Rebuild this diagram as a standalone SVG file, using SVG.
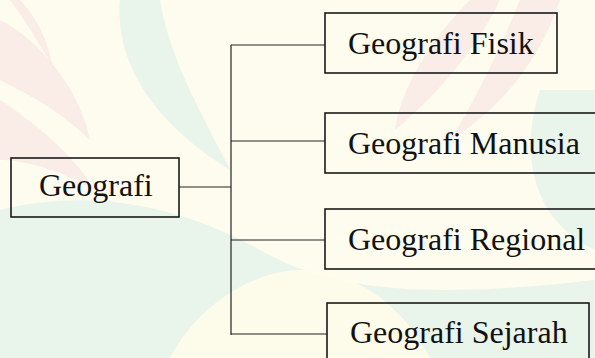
<svg xmlns="http://www.w3.org/2000/svg" width="595" height="358" viewBox="0 0 595 358">
  <style>
    .box { fill: none; stroke: #1a1a1a; stroke-width: 1.6; }
    .lbl { font-family: "Liberation Serif", "Times New Roman", serif; font-size: 32px; fill: #111; }
    .conn { stroke: #222; stroke-width: 1.2; fill: none; }
    .pink { fill: #f8dfe2; opacity: 0.55; }
    .teal { fill: #dcefe9; opacity: 0.6; }
    .cream { fill: #fffcea; opacity: 0.9; }
  </style>
  <g id="background">
    <rect width="595" height="358" fill="#fdfcee"/>
    <path class="teal" d="M0 210 C80 190 170 200 260 250 C330 290 420 300 595 280 L595 358 L0 358 Z"/>
    <path class="teal" d="M120 0 C115 60 150 120 230 170 C200 110 170 60 160 0 Z"/>
    <path class="teal" d="M540 90 C520 150 530 220 595 250 L595 90 Z"/>
    <path class="pink" d="M0 20 C40 40 80 90 90 140 C60 110 20 90 0 80 Z"/>
    <path class="pink" d="M0 100 C30 120 70 150 95 190 C60 170 25 160 0 160 Z"/>
    <path class="pink" d="M20 0 C40 20 50 50 52 65 C40 45 25 20 10 0 Z"/>
    <path class="pink" d="M470 0 C430 40 400 90 395 130 C430 100 470 60 500 0 Z"/>
    <path class="pink" d="M520 0 C500 50 470 110 450 140 C500 110 540 60 560 0 Z"/>
    <path class="cream" d="M170 358 C200 300 260 270 300 270 C350 270 400 300 430 358 Z"/>
  </g>
  <g id="connectors">
    <line class="conn" x1="179" y1="187" x2="231" y2="187"/>
    <line class="conn" x1="231" y1="45" x2="231" y2="335"/>
    <line class="conn" x1="231" y1="45" x2="325" y2="45"/>
    <line class="conn" x1="231" y1="141" x2="325" y2="141"/>
    <line class="conn" x1="231" y1="240" x2="325" y2="240"/>
    <line class="conn" x1="231" y1="334" x2="327" y2="334"/>
  </g>
  <g id="geografi">
    <rect class="box" x="11" y="158" width="168" height="59"/>
    <text class="lbl" x="39" y="196">Geografi</text>
  </g>
  <g id="fisik">
    <rect class="box" x="325" y="13" width="232" height="60"/>
    <text class="lbl" x="348" y="54">Geografi Fisik</text>
  </g>
  <g id="manusia">
    <rect class="box" x="325" y="113" width="280" height="60"/>
    <text class="lbl" x="348" y="154">Geografi Manusia</text>
  </g>
  <g id="regional">
    <rect class="box" x="325" y="209" width="280" height="60"/>
    <text class="lbl" x="348" y="250">Geografi Regional</text>
  </g>
  <g id="sejarah">
    <rect class="box" x="327" y="303" width="262" height="60"/>
    <text class="lbl" x="350" y="343">Geografi Sejarah</text>
  </g>
</svg>
